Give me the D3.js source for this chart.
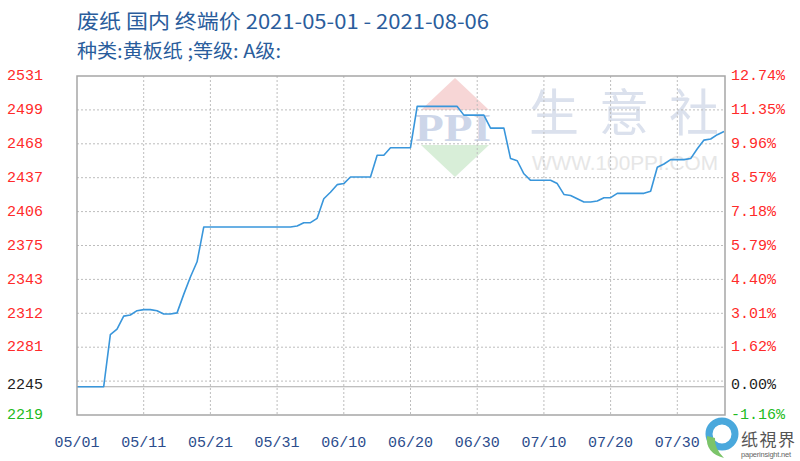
<!DOCTYPE html>
<html>
<head>
<meta charset="utf-8">
<script src="https://cdn.jsdelivr.net/npm/d3@7/dist/d3.min.js"></script>
<style>
  html, body { margin: 0; padding: 0; background: #ffffff; }
  svg { display: block; }
</style>
</head>
<body>
<svg id="chart" width="800" height="461"></svg>
<script>
// ---------------- DATA ----------------
const titleLine1 = "废纸 国内 终端价 2021-05-01 - 2021-08-06";
const titleLine2 = "种类:黄板纸 ;等级: A级:";
const startDate = "2021-05-01";
const endDate = "2021-08-06";
// daily terminal price, 2021-05-01 .. 2021-08-06
const prices = [
  2245, 2245, 2245, 2245, 2245, 2293, 2298, 2310, 2311, 2315,
  2316, 2316, 2315, 2312, 2312, 2313, 2330, 2346, 2360, 2392,
  2392, 2392, 2392, 2392, 2392, 2392, 2392, 2392, 2392, 2392,
  2392, 2392, 2392, 2393, 2396, 2396, 2400, 2418, 2424, 2431,
  2432, 2438, 2438, 2438, 2438, 2458, 2458, 2465, 2465, 2465,
  2465, 2503, 2503, 2503, 2503, 2503, 2503, 2503, 2495, 2495,
  2495, 2495, 2483, 2483, 2483, 2455, 2453, 2441, 2435, 2435,
  2435, 2435, 2432, 2422, 2421, 2418, 2415, 2415, 2416, 2419,
  2419, 2423, 2423, 2423, 2423, 2423, 2425, 2447, 2450, 2454,
  2454, 2454, 2455, 2464, 2472, 2473, 2477, 2480
];
const baseValue = 2245;
const yMin = 2219;
const yMax = 2531;
const leftTickLabels = ["2219", "2245", "2281", "2312", "2343", "2375", "2406", "2437", "2468", "2499", "2531"];
const rightTickLabels = ["-1.16%", "0.00%", "1.62%", "3.01%", "4.40%", "5.79%", "7.18%", "8.57%", "9.96%", "11.35%", "12.74%"];
const xTickLabels = ["05/01", "05/11", "05/21", "05/31", "06/10", "06/20", "06/30", "07/10", "07/20", "07/30"];

// ---------------- LAYOUT ----------------
const svg = d3.select("#chart");
const plot = { left: 77, right: 724, top: 76, bottom: 415 };
const parse = d3.timeParse("%Y-%m-%d");
const t0 = parse(startDate);
const series = prices.map((v, i) => ({ date: d3.timeDay.offset(t0, i), value: v }));

const x = d3.scaleTime().domain([t0, parse(endDate)]).range([plot.left, plot.right]);
const y = d3.scaleLinear().domain([yMin, yMax]).range([plot.bottom, plot.top]);
const yTicks = d3.range(leftTickLabels.length).map(i => yMin + i * (yMax - yMin) / (leftTickLabels.length - 1));
const fmtMD = d3.timeFormat("%m/%d");
const xTicks = xTickLabels.map(lbl => {
  const [m, d] = lbl.split("/").map(Number);
  return new Date(2021, m - 1, d);
});

const labelColor = (i) => i === 0 ? "#22bb22" : (i === 1 ? "#222222" : "#ff2a2a");
// the "base" tick label sits between its grid line and the base-value line
const labelY = (d, i) => i === 1 ? (y(d) + y(baseValue)) / 2 : y(d) - 1;

// ---------------- TITLE ----------------
svg.append("text").attr("x", 77).attr("y", 29)
  .attr("font-family", "'Noto Sans CJK SC', sans-serif").attr("font-size", 20)
  .attr("textLength", 412).attr("lengthAdjust", "spacingAndGlyphs")
  .attr("fill", "#2a5d9c").attr("xml:space", "preserve").text(titleLine1);
svg.append("text").attr("x", 77).attr("y", 58)
  .attr("font-family", "'Noto Sans CJK SC', sans-serif").attr("font-size", 19)
  .attr("textLength", 204).attr("lengthAdjust", "spacingAndGlyphs")
  .attr("fill", "#2a5d9c").attr("xml:space", "preserve").text(titleLine2);

// ---------------- WATERMARK ----------------
const wm = svg.append("g").attr("pointer-events", "none");
wm.append("path").attr("d", "M455,78 L489,110 L421,110 Z").attr("fill", "#f7d6d6");
wm.append("path").attr("d", "M421,145 L489,145 L455,177 Z").attr("fill", "#d8eed8");
wm.append("text").attr("x", 453).attr("y", 141).attr("text-anchor", "middle")
  .attr("font-family", "'Liberation Serif', serif").attr("font-weight", "bold").attr("font-size", 40)
  .attr("textLength", 76).attr("lengthAdjust", "spacingAndGlyphs")
  .attr("fill", "#cdd6e9").text("PPI");
["生", "意", "社"].forEach((c, i) => {
  wm.append("text").attr("x", 554 + i * 70).attr("y", 131).attr("text-anchor", "middle")
    .attr("font-family", "'Noto Sans CJK SC', sans-serif").attr("font-size", 50)
    .attr("fill", "#dbe1ed").text(c);
});
wm.append("text").attr("x", 532).attr("y", 170)
  .attr("font-family", "'Liberation Sans', Arial, sans-serif").attr("font-size", 21)
  .attr("textLength", 186).attr("lengthAdjust", "spacingAndGlyphs")
  .attr("fill", "#e6e6e6").text("WWW.100PPI.COM");

// ---------------- GRID ----------------
const grid = svg.append("g");
grid.selectAll("line.h").data(yTicks.slice(1, -1)).enter().append("line")
  .attr("x1", plot.left).attr("x2", plot.right)
  .attr("y1", d => y(d)).attr("y2", d => y(d))
  .attr("stroke", "#bdbdbd").attr("stroke-width", 1).attr("stroke-dasharray", "2,2");
grid.selectAll("line.v").data(xTicks.slice(1)).enter().append("line")
  .attr("x1", d => x(d)).attr("x2", d => x(d))
  .attr("y1", plot.top).attr("y2", plot.bottom)
  .attr("stroke", "#bdbdbd").attr("stroke-width", 1).attr("stroke-dasharray", "2,2");
// base line
svg.append("line").attr("x1", plot.left).attr("x2", plot.right)
  .attr("y1", y(baseValue)).attr("y2", y(baseValue))
  .attr("stroke", "#aaaaaa").attr("stroke-width", 1.2);

// ---------------- LINE ----------------
const line = d3.line().x(d => x(d.date)).y(d => y(d.value));
svg.append("path").datum(series).attr("d", line)
  .attr("fill", "none").attr("stroke", "#3996db").attr("stroke-width", 1.6)
  .attr("stroke-linejoin", "round");

// ---------------- FRAME ----------------
svg.append("rect").attr("x", plot.left).attr("y", plot.top)
  .attr("width", plot.right - plot.left + 1).attr("height", plot.bottom - plot.top)
  .attr("fill", "none").attr("stroke", "#a6a6a6").attr("stroke-width", 1.5);

// ---------------- AXES LABELS ----------------
const monoFont = "'Liberation Mono', 'DejaVu Sans Mono', monospace";
svg.selectAll("text.yl").data(yTicks).enter().append("text")
  .attr("x", 7).attr("y", labelY).attr("dy", "0.35em")
  .attr("font-family", monoFont).attr("font-size", 15)
  .attr("fill", (d, i) => labelColor(i)).text((d, i) => leftTickLabels[i]);
svg.selectAll("text.yr").data(yTicks).enter().append("text")
  .attr("x", 731).attr("y", labelY).attr("dy", "0.35em")
  .attr("font-family", monoFont).attr("font-size", 15)
  .attr("fill", (d, i) => labelColor(i)).text((d, i) => rightTickLabels[i]);
svg.selectAll("text.xl").data(xTicks).enter().append("text")
  .attr("x", d => x(d)).attr("y", 447).attr("text-anchor", "middle")
  .attr("font-family", monoFont).attr("font-size", 15)
  .attr("fill", "#2b4c8c").text(d => fmtMD(d));

// ---------------- CORNER LOGO ----------------
const logo = svg.append("g");
logo.append("circle").attr("cx", 722).attr("cy", 434).attr("r", 13)
  .attr("fill", "none").attr("stroke", "#4aa8dc").attr("stroke-width", 7);
logo.append("path").attr("d", "M707,436 Q705,453 724,458 Q714,448 715,438 Z").attr("fill", "#7cc46a");
logo.append("text").attr("x", 741).attr("y", 446)
  .attr("font-family", "'Noto Sans CJK TC', sans-serif").attr("font-size", 17)
  .attr("fill", "#555555").attr("textLength", 54).text("纸視界");
logo.append("text").attr("x", 741).attr("y", 457)
  .attr("font-family", "'Liberation Sans', sans-serif").attr("font-size", 7.5)
  .attr("fill", "#666666").attr("textLength", 50).text("paperinsight.net");
</script>
</body>
</html>
